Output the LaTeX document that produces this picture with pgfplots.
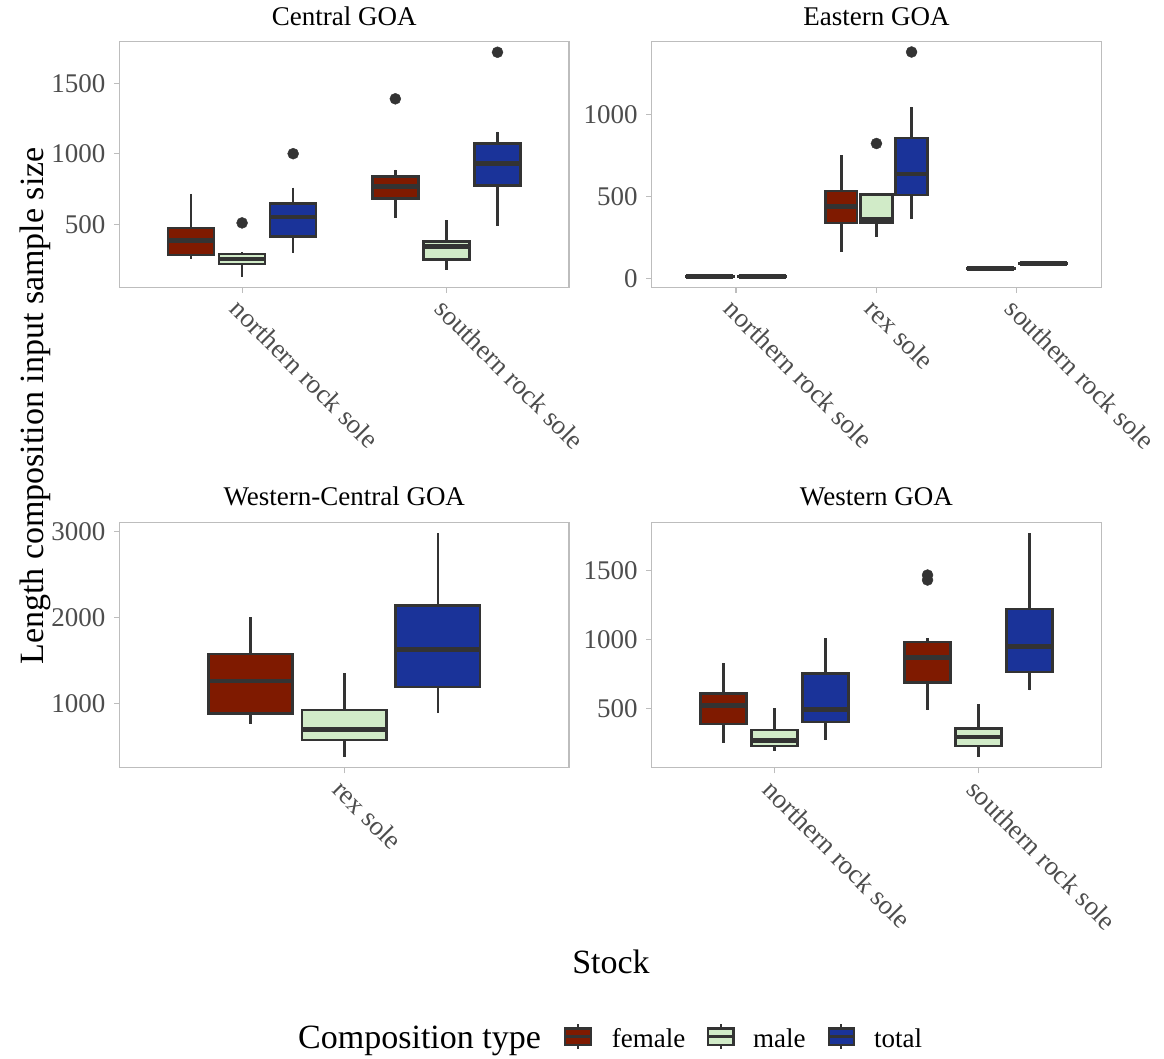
\documentclass[border=0pt]{standalone}
\usepackage{fontspec}
\setmainfont{Liberation Serif}
\usepackage{pgfplots}
\pgfplotsset{compat=1.18}
\usepgfplotslibrary{statistics}
\definecolor{cf}{HTML}{7F1A00}
\definecolor{cm}{HTML}{D1EBC8}
\definecolor{ct}{HTML}{1A3399}
\definecolor{cd}{HTML}{333333}
\definecolor{cb}{HTML}{BDBDBD}
\definecolor{ctl}{HTML}{4D4D4D}
\newcommand{\fs}{\fontsize{27}{32}\selectfont}
\newcommand{\fl}{\fontsize{34}{40}\selectfont}
\pgfplotsset{
 facet/.style={scale only axis, width=449.5pt, height=245.5pt, anchor=north west,
  axis line style={draw=cb, line width=1.1pt},
  tick pos=left, tick align=outside, major tick length=5.5pt,
  major tick style={draw=cb, line width=1.1pt},
  minor tick num=0,
  tick label style={font=\fs, text=ctl},
  /pgf/number format/assume math mode=true,
  /pgf/number format/1000 sep={},
  xticklabel style={rotate=-45, anchor=north west},
  yticklabel style={xshift=-5pt},
  title style={at={(0.5,1)}, anchor=base, yshift=10.5pt, font=\fs, text=black},
  scaled y ticks=false,
  clip=false,
 },
 bxs/.style={draw=cd, line width=2.6pt, boxplot/draw direction=y, boxplot/whisker extend=0,
  boxplot/every median/.style={line width=4.7pt}, mark=none},
 outl/.style={only marks, mark=*, mark size=5.5pt, mark options={draw=cd, fill=cd, line width=0.4pt}},
}
\newcommand{\bx}[8]{\addplot[bxs, fill=#1, boxplot prepared={draw direction=y, draw position=#2, box extend=#3, lower whisker=#4, lower quartile=#5, median=#6, upper quartile=#7, upper whisker=#8}] coordinates {};}
\begin{document}
\begin{tikzpicture}
\path[use as bounding box] (0pt,0pt) rectangle (1164pt,-1059pt);
% Central GOA
\begin{axis}[facet, at={(119.5pt,-41.7pt)}, title={Central GOA},
  xmin=0.4, xmax=2.6, ymin=52, ymax=1797, xtick={1,2},
  xticklabels={northern rock sole, southern rock sole}, ytick={500,1000,1500}]
\bx{cf}{0.75}{0.225}{252}{282}{384}{472}{715}
\bx{cm}{1.00}{0.225}{128}{216}{252}{287}{304}
\bx{ct}{1.25}{0.225}{294}{412}{552}{646}{760}
\bx{cf}{1.75}{0.225}{547}{682}{767}{838}{887}
\bx{cm}{2.00}{0.225}{176}{247}{341}{377}{533}
\bx{ct}{2.25}{0.225}{488}{777}{933}{1074}{1157}
\addplot[outl] coordinates {(1.00,509) (1.25,1001) (1.75,1391) (2.25,1722)};
\end{axis}
% Eastern GOA
\begin{axis}[facet, at={(651.7pt,-41.7pt)}, title={Eastern GOA},
  xmin=0.4, xmax=3.6, ymin=-55, ymax=1445, xtick={1,2,3},
  xticklabels={northern rock sole, rex sole, southern rock sole}, ytick={0,500,1000}]
\bx{cf}{0.8125}{0.3375}{10}{11}{12}{13}{14}
\bx{cm}{1.1875}{0.3375}{10}{11}{12}{13}{14}
\bx{cf}{1.75}{0.225}{161}{338}{437}{533}{752}
\bx{cm}{2.00}{0.225}{252}{342}{358}{512}{518}
\bx{ct}{2.25}{0.225}{363}{509}{637}{856}{1047}
\bx{cf}{2.8125}{0.3375}{57}{58}{59}{60}{61}
\bx{cm}{3.1875}{0.3375}{89}{90}{91}{92}{93}
\addplot[outl] coordinates {(2.00,823) (2.25,1382)};
\end{axis}
% Western-Central GOA
\begin{axis}[facet, at={(119.5pt,-522.3pt)}, title={Western-Central GOA},
  xmin=0.4, xmax=1.6, ymin=258, ymax=3104, xtick={1},
  xticklabels={rex sole}, ytick={1000,2000,3000}]
\bx{cf}{0.75}{0.225}{768}{889}{1263}{1576}{2002}
\bx{cm}{1.00}{0.225}{382}{582}{699}{927}{1353}
\bx{ct}{1.25}{0.225}{892}{1197}{1631}{2141}{2977}
\end{axis}
% Western GOA
\begin{axis}[facet, at={(651.7pt,-522.3pt)}, title={Western GOA},
  xmin=0.4, xmax=2.6, ymin=70, ymax=1848, xtick={1,2},
  xticklabels={northern rock sole, southern rock sole}, ytick={500,1000,1500}]
\bx{cf}{0.75}{0.225}{251}{388}{519}{606}{830}
\bx{cm}{1.00}{0.225}{191}{227}{270}{343}{500}
\bx{ct}{1.25}{0.225}{270}{401}{493}{754}{1007}
\bx{cf}{1.75}{0.225}{488}{686}{869}{980}{1009}
\bx{cm}{2.00}{0.225}{147}{227}{294}{355}{529}
\bx{ct}{2.25}{0.225}{630}{763}{951}{1220}{1768}
\addplot[outl] coordinates {(1.75,1430) (1.75,1466)};
\end{axis}
% axis titles
\node[rotate=90, anchor=base, font=\fl, inner sep=0pt] at (43pt,-406pt) {Length composition input sample size};
\node[anchor=base, font=\fl, inner sep=0pt] at (611pt,-973pt) {Stock};
% legend
\node[anchor=base west, font=\fl, inner sep=0pt] at (298pt,-1048pt) {Composition type};
\foreach \x/\c in {578/cf, 720.8/cm, 841.3/ct}{
  \draw[cd, line width=1.8pt] (\x pt,-1024pt)--(\x pt,-1049pt);
  \draw[cd, line width=2.2pt, fill=\c] ([xshift=-12.7pt]\x pt,-1028.5pt) rectangle ([xshift=12.7pt]\x pt,-1045pt);
  \draw[cd, line width=3.5pt] ([xshift=-12.7pt]\x pt,-1036.7pt)--([xshift=12.7pt]\x pt,-1036.7pt);
}
\node[anchor=base west, font=\fs, inner sep=0pt] at (611.7pt,-1047.7pt) {female};
\node[anchor=base west, font=\fs, inner sep=0pt] at (753pt,-1047.7pt) {male};
\node[anchor=base west, font=\fs, inner sep=0pt] at (874pt,-1047.7pt) {total};
\end{tikzpicture}
\end{document}
